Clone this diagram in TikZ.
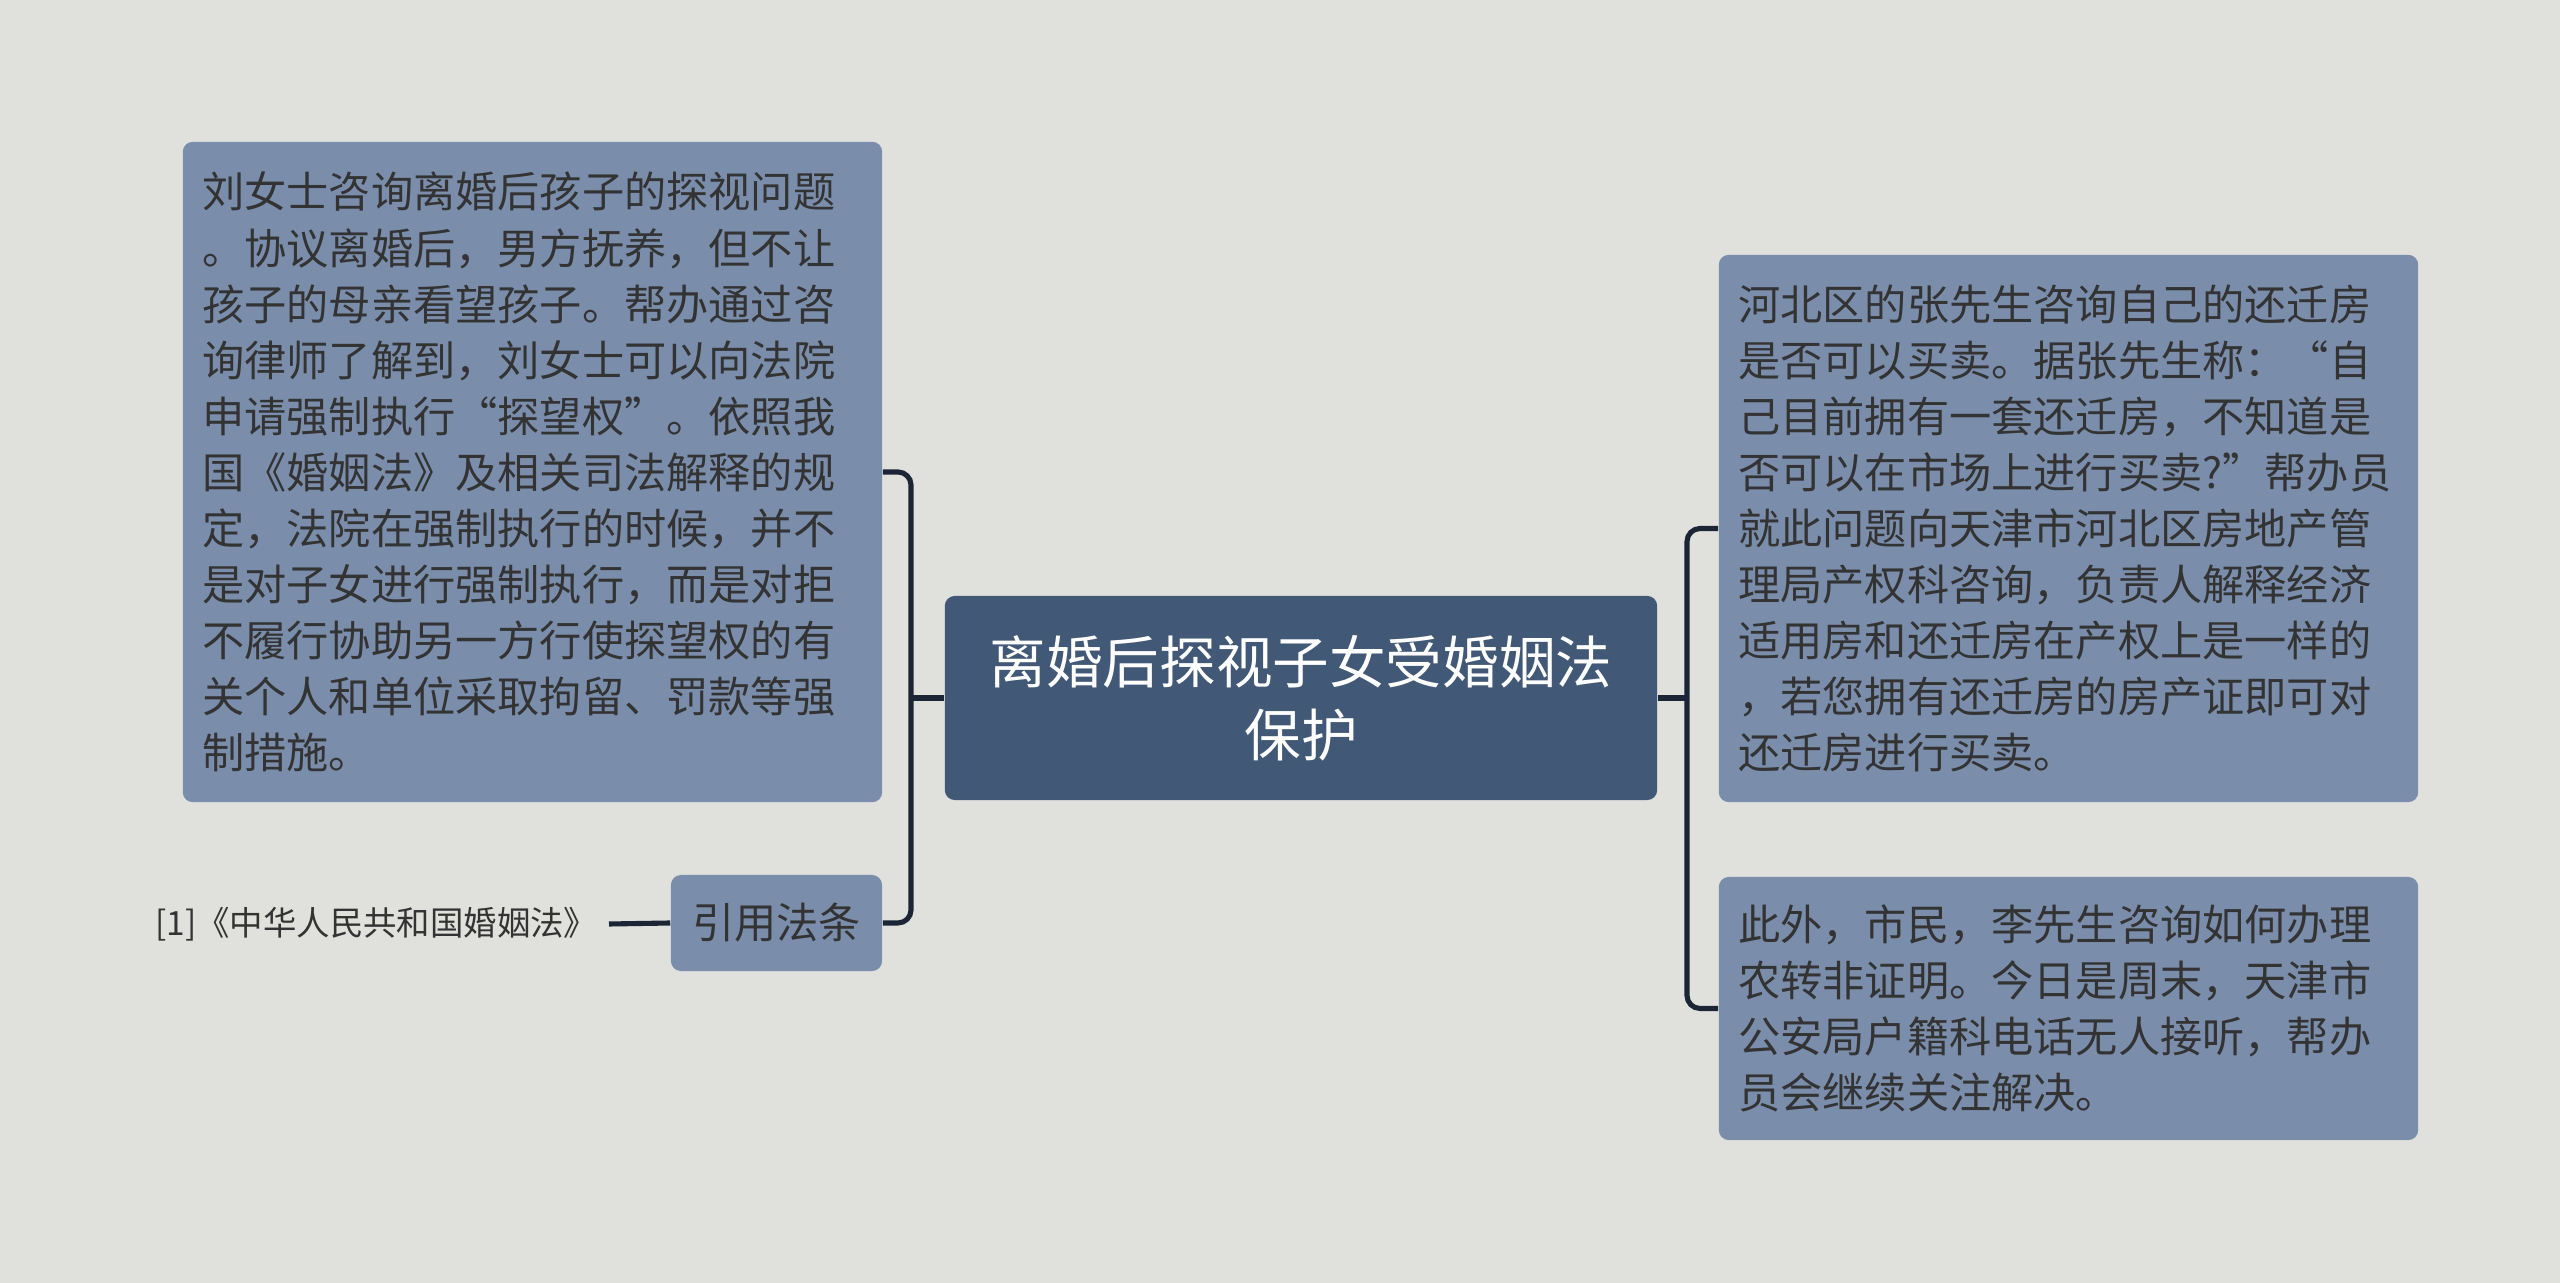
\documentclass[tikz,border=0pt]{standalone}
\usepackage{fontspec}
\setmainfont{Noto Sans CJK SC}
\usetikzlibrary{positioning}
\definecolor{paper}{HTML}{E0E1DC}
\definecolor{ink}{HTML}{333333}
\definecolor{rootfill}{HTML}{415876}
\definecolor{leaffill}{HTML}{7A8DAA}
\definecolor{wire}{HTML}{1B2536}
\tikzset{
  every node/.style = {text=ink},
  mmleaf/.style   = {fill=leaffill, rounded corners=0.1cm, align=left, inner sep=0pt,
                     text width=6.6cm, minimum width=6.99cm,
                     font=\fontsize{12pt}{15.94pt}\selectfont},
  mmroot/.style   = {fill=rootfill, rounded corners=0.1cm, align=center, text=white,
                     minimum width=7.12cm, minimum height=2.04cm,
                     font=\fontsize{16.1pt}{20.8pt}\selectfont},
  mmsub/.style    = {fill=leaffill, rounded corners=0.1cm, align=center,
                     minimum width=2.11cm, minimum height=0.96cm,
                     font=\fontsize{12pt}{14pt}\selectfont},
  mmcap/.style    = {font=\fontsize{9.5pt}{11pt}\selectfont, inner sep=0pt},
  mmlink/.style   = {draw=wire, line width=1.45pt, rounded corners=0.13cm},
}
\begin{document}
\begin{tikzpicture}[x=0.01cm, y=-0.01cm]

\fill[paper] (0,0) rectangle (2560,1283);

\node[mmroot] (root) at (1301,698) {离婚后探视子女受婚姻法\\保护};

\node[mmleaf, minimum height=6.6cm] (visit) at (532.5,472)
  {刘女士咨询离婚后孩子的探视问题\\
   。协议离婚后，男方抚养，但不让\\
   孩子的母亲看望孩子。帮办通过咨\\
   询律师了解到，刘女士可以向法院\\
   申请强制执行“探望权”。依照我\\
   国《婚姻法》及相关司法解释的规\\
   定，法院在强制执行的时候，并不\\
   是对子女进行强制执行，而是对拒\\
   不履行协助另一方行使探望权的有\\
   关个人和单位采取拘留、罚款等强\\
   制措施。};

\node[mmsub] (cite) at (776.5,923) {引用法条};
\node[mmcap, anchor=east] (law) at (598,924) {[1]《中华人民共和国婚姻法》};

\node[mmleaf, minimum height=5.47cm] (house) at (2068.5,528.5)
  {河北区的张先生咨询自己的还迁房\\
   是否可以买卖。据张先生称：“自\\
   己目前拥有一套还迁房，不知道是\\
   否可以在市场上进行买卖?”帮办员\\
   就此问题向天津市河北区房地产管\\
   理局产权科咨询，负责人解释经济\\
   适用房和还迁房在产权上是一样的\\
   ，若您拥有还迁房的房产证即可对\\
   还迁房进行买卖。};

\node[mmleaf, minimum height=2.63cm] (hukou) at (2068.5,1008.5)
  {此外，市民，李先生咨询如何办理\\
   农转非证明。今日是周末，天津市\\
   公安局户籍科电话无人接听，帮办\\
   员会继续关注解决。};

\coordinate (lspine) at (911,698);
\coordinate (rspine) at (1687,698);

\draw[mmlink] (visit.east) -| (lspine) |- (cite.east);
\draw[mmlink] (root.west) -- (lspine);
\draw[mmlink] (house.west) -| (rspine) |- (hukou.west);
\draw[mmlink] (root.east) -- (rspine);
\draw[mmlink] (law.east) ++(11,0) coordinate (lawtip) -- (cite.west);
\end{tikzpicture}
\end{document}
